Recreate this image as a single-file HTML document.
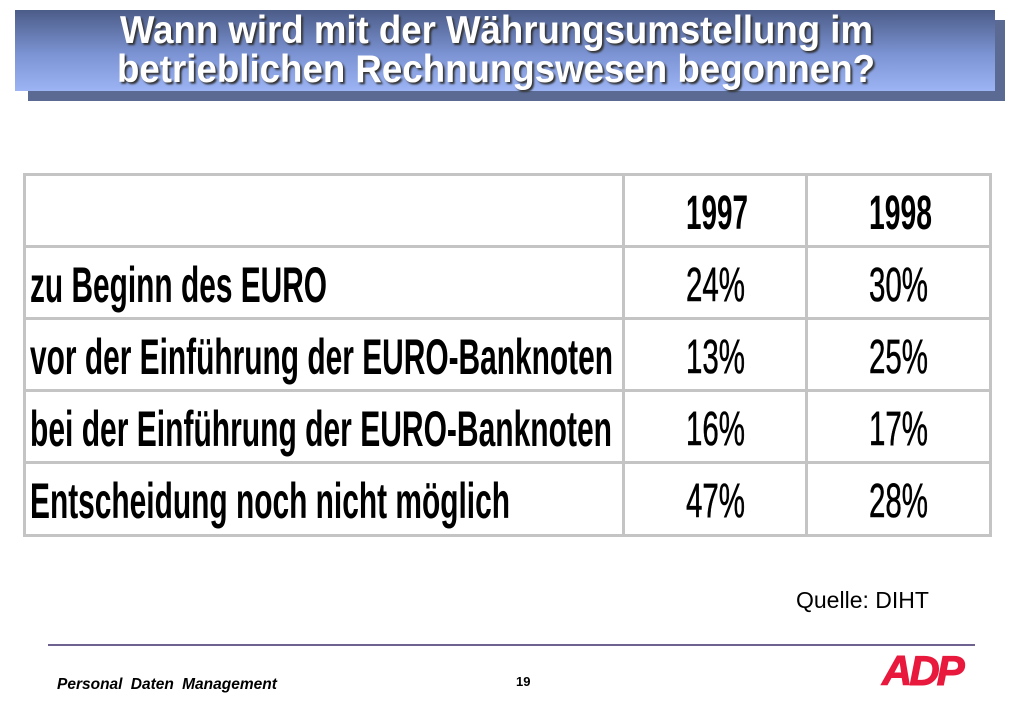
<!DOCTYPE html>
<html><head><meta charset="utf-8"><style>
body{margin:0;width:1023px;height:708px;background:#fff;position:relative;overflow:hidden;font-family:"Liberation Sans",sans-serif}
.abs{position:absolute}
.fit{position:absolute;white-space:nowrap;transform-origin:0 0;line-height:1}
.hl{position:absolute;background:#c4c4c4}
.pct{font-size:48px;-webkit-text-stroke:0.6px #000}
</style></head><body>
<div class="abs" style="left:28px;top:20px;width:977px;height:81px;background:#5a6a92"></div>
<div class="abs" style="left:15px;top:10px;width:980px;height:81px;background:linear-gradient(#4c5c88,#7c94d4 55%,#9cb4f4)"></div>
<div class="fit" data-x="120" data-b="46" data-w="753" style="color:#fff;font-weight:bold;font-size:39px;text-shadow:2px 2px 2px #333">Wann wird mit der Währungsumstellung im</div>
<div class="fit" data-x="117" data-b="85" data-w="758" style="color:#fff;font-weight:bold;font-size:39px;text-shadow:2px 2px 2px #333">betrieblichen Rechnungswesen begonnen?</div>

<div>
<div class="hl" style="left:23px;top:173px;width:969px;height:3px"></div>
<div class="hl" style="left:23px;top:245px;width:969px;height:3px"></div>
<div class="hl" style="left:23px;top:317px;width:969px;height:3px"></div>
<div class="hl" style="left:23px;top:389px;width:969px;height:3px"></div>
<div class="hl" style="left:23px;top:461px;width:969px;height:3px"></div>
<div class="hl" style="left:23px;top:534px;width:969px;height:3px"></div>
<div class="hl" style="left:23px;top:173px;width:3px;height:364px"></div>
<div class="hl" style="left:622px;top:173px;width:3px;height:364px"></div>
<div class="hl" style="left:805px;top:173px;width:3px;height:364px"></div>
<div class="hl" style="left:989px;top:173px;width:3px;height:364px"></div>
</div>

<div class="fit" data-x="686" data-b="233" data-w="62" style="font-weight:bold;font-size:48px">1997</div>
<div class="fit" data-x="869" data-b="233" data-w="63" style="font-weight:bold;font-size:48px">1998</div>

<div class="fit" data-x="30" data-b="305" data-w="297" style="font-weight:bold;font-size:50px">zu Beginn des EURO</div>
<div class="fit" data-x="30" data-b="377" data-w="583" style="font-weight:bold;font-size:50px">vor der Einführung der EURO-Banknoten</div>
<div class="fit" data-x="30" data-b="449" data-w="582" style="font-weight:bold;font-size:50px">bei der Einführung der EURO-Banknoten</div>
<div class="fit" data-x="30" data-b="521" data-w="480" style="font-weight:bold;font-size:50px">Entscheidung noch nicht möglich</div>

<div class="fit pct" data-x="686" data-b="305" data-w="59">24%</div>
<div class="fit pct" data-x="869" data-b="305" data-w="59">30%</div>
<div class="fit pct" data-x="686" data-b="377" data-w="59">13%</div>
<div class="fit pct" data-x="869" data-b="377" data-w="59">25%</div>
<div class="fit pct" data-x="686" data-b="449" data-w="59">16%</div>
<div class="fit pct" data-x="869" data-b="449" data-w="59">17%</div>
<div class="fit pct" data-x="686" data-b="521" data-w="59">47%</div>
<div class="fit pct" data-x="869" data-b="521" data-w="59">28%</div>

<div class="abs" style="left:796px;top:587px;font-size:23px">Quelle: DIHT</div>
<div class="abs" style="left:48px;top:644px;width:927px;height:2px;background:#6e6290"></div>
<div class="abs" style="left:57px;top:676px;font-size:15.5px;font-weight:bold;font-style:italic;word-spacing:4px">Personal Daten Management</div>
<div class="abs" style="left:516px;top:674px;font-size:13px;font-weight:bold">19</div>
<div class="abs" style="left:882px;top:648px;font-size:42px;font-weight:bold;font-style:italic;color:#e8193c;letter-spacing:-3px;line-height:46px;-webkit-text-stroke:1px #e8193c">ADP</div>

<script>
document.querySelectorAll('.fit').forEach(function(el){
  var r=el.getBoundingClientRect();
  var s=parseFloat(el.dataset.w)/r.width;
  var fs=parseFloat(getComputedStyle(el).fontSize);
  var asc=fs*0.905;
  el.style.left=el.dataset.x+'px';
  el.style.top=(parseFloat(el.dataset.b)-asc)+'px';
  el.style.transform='scaleX('+s+')';
});
</script>
</body></html>
